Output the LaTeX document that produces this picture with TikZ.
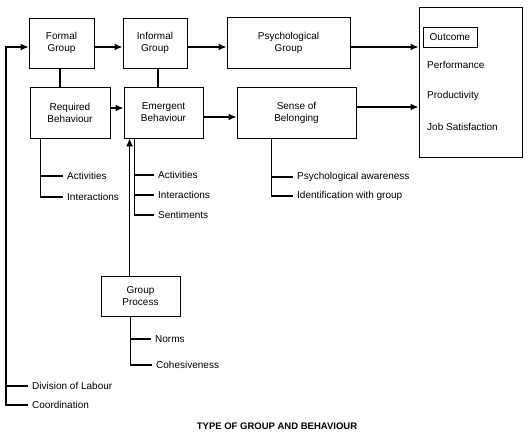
\documentclass[tikz,border=0pt]{standalone}
\usepackage{fontspec}
\setmainfont{Liberation Sans}
\usetikzlibrary{arrows.meta}
\tikzset{>={Latex[length=8pt,width=7pt]}}
\tikzset{
  box/.style={draw,line width=0.8pt,align=center,inner sep=2pt},
  item/.style={anchor=west,inner xsep=4pt,inner ysep=1pt},
  flow/.style={->,line width=1.8pt},
  feed/.style={->,line width=1.3pt},
  branch/.style={line width=1.3pt},
}

\begin{document}
\begin{tikzpicture}[x=1pt,y=-1pt,font=\fontsize{10}{12}\selectfont]
            \draw[draw=none,use as bounding box] (0,0) rectangle (528,437);
            % top row
            \node[box,minimum width=65pt,minimum height=50pt] (formal) at (61.5,43) {Formal\\Group};
            \node[box,minimum width=64pt,minimum height=50pt] (informal) at (155,43) {Informal\\Group};
            \node[box,minimum width=123pt,minimum height=51pt] (psych) at (288.5,43) {Psychological\\Group};
            \node[box,minimum width=103pt,minimum height=150pt] (outcome) at (470.5,82) {};
            \node[box,minimum width=54pt,minimum height=20pt] (outhead) at (450,37) {Outcome};
            \node[item,inner xsep=0pt] (perf) at (427,65) {Performance};
            \node[item,inner xsep=0pt] (prod) at (427,96) {Productivity};
            \node[item,inner xsep=0pt] (jobsat) at (427,127) {Job Satisfaction};
            % second row
            \node[box,minimum width=80pt,minimum height=51pt] (required) at (70,112.5) {Required\\Behaviour};
            \node[box,minimum width=79pt,minimum height=51pt] (emergent) at (163.5,112.5) {Emergent\\Behaviour};
            \node[box,minimum width=119pt,minimum height=51pt] (sense) at (296.5,112.5) {Sense of\\Belonging};
            \node[box,minimum width=79pt,minimum height=40pt] (group) at (140.5,296) {Group\\Process};
            % listed items
            \node[item] (reqact) at (63,176) {Activities};
            \node[item] (reqint) at (63,197) {Interactions};
            \node[item] (emact) at (154,175) {Activities};
            \node[item] (emint) at (154,195) {Interactions};
            \node[item] (emsent) at (154,215) {Sentiments};
            \node[item] (senaw) at (293,177) {Psychological awareness};
            \node[item] (senid) at (293,196) {Identification with group};
            \node[item] (norms) at (151,339) {Norms};
            \node[item] (cohes) at (152,365) {Cohesiveness};
            \node[item] (divlab) at (28,386) {Division of Labour};
            \node[item] (coordlab) at (28,405) {Coordination};
            \node[font=\bfseries\fontsize{9.5}{11}\selectfont] (title) at (277,426) {TYPE OF GROUP AND BEHAVIOUR};
            % trunks
            \coordinate (labtrunk) at (6,47);
            \coordinate (reqtrunk) at ([xshift=11pt]required.south west);
            \coordinate (emtrunk) at ([xshift=11pt]emergent.south west);
            \coordinate (gptop) at ([xshift=6pt]emergent.south west);
            \coordinate (gptrunk) at ([xshift=30pt]group.south west);
            \coordinate (sentrunk) at ([xshift=35pt]sense.south west);
            % main flow
            \draw[flow] ([yshift=-4pt]formal.east) -- ([yshift=-4pt]informal.west);
            \draw[flow] ([yshift=-4pt]informal.east) -- ([yshift=-4pt]psych.west);
            \draw[flow] ([yshift=-4pt]psych.east) -- ([yshift=-4pt]psych.east -| outcome.west);
            \draw[flow] ([yshift=4.5pt]required.east) -- ([yshift=4.5pt]emergent.west);
            \draw[flow] ([yshift=-4.5pt]emergent.east) -- ([yshift=-4.5pt]sense.west);
            \draw[flow] ([yshift=5.5pt]sense.east) -- ([yshift=5.5pt]sense.east -| outcome.west);
            \draw[branch] ([xshift=-1.5pt]formal.south) -- ([xshift=-1.5pt]formal.south |- required.north);
            \draw[branch] ([xshift=3pt]informal.south) -- ([xshift=3pt]informal.south |- emergent.north);
            \draw[feed] (coordlab.west) -| (labtrunk) -- ([yshift=-4pt]formal.west);
            \draw[feed] (gptop |- group.north) -- (gptop);
            % branches
            \draw[branch] (divlab.west) -- (divlab.west -| labtrunk);
            \draw[branch] (reqtrunk) |- (reqint.west);
            \draw[branch] (reqact.west) -- (reqact.west -| reqtrunk);
            \draw[branch] (emtrunk) |- (emsent.west);
            \foreach \v in {emact,emint}
                \draw[branch] (\v.west) -- (\v.west -| emtrunk);
            \draw[branch] (sentrunk) |- (senid.west);
            \draw[branch] (senaw.west) -- (senaw.west -| sentrunk);
            \draw[branch] (gptrunk) |- (cohes.west);
            \draw[branch] (norms.west) -- (norms.west -| gptrunk);
        \end{tikzpicture}
\end{document}
